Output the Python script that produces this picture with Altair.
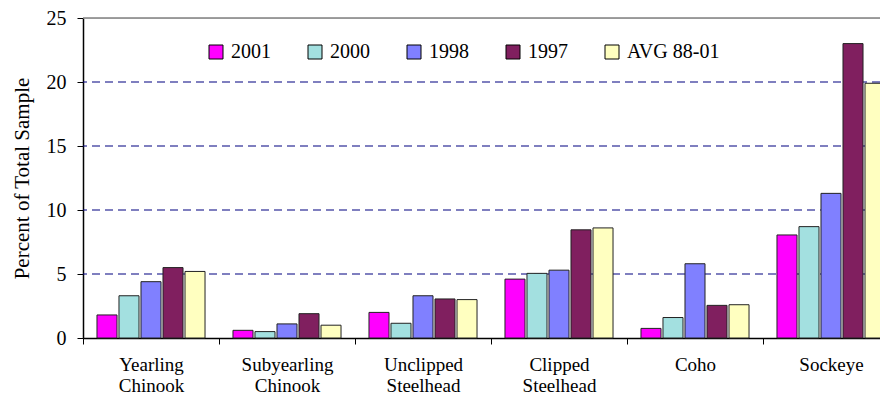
import altair as alt
import pandas as pd

categories = ["Yearling Chinook", "Subyearling Chinook", "Unclipped Steelhead",
              "Clipped Steelhead", "Coho", "Sockeye"]
series = ["2001", "2000", "1998", "1997", "AVG 88-01"]
v2001 = [1.8, 0.6, 2.0, 4.6, 0.75, 8.05]
v2000 = [3.3, 0.5, 1.15, 5.05, 1.6, 8.7]
v1998 = [4.4, 1.1, 3.3, 5.3, 5.8, 11.3]
v1997 = [5.5, 1.9, 3.05, 8.45, 2.55, 23.0]
vavg = [5.2, 1.0, 3.0, 8.6, 2.6, 19.9]
colors = ["#FF00FF", "#A3E0E0", "#8080FF", "#801F5F", "#FFFFC0"]
y_ticks = [0, 5, 10, 15, 20, 25]
grid_vals = [5, 10, 15, 20]

rows = []
for s, vals in zip(series, [v2001, v2000, v1998, v1997, vavg]):
    for c, v in zip(categories, vals):
        rows.append({"category": c, "series": s, "value": v})
df = pd.DataFrame(rows)

FONT = "Liberation Serif, Times New Roman, DejaVu Serif, serif"

bars = alt.Chart(df).mark_bar(stroke="#222222", strokeWidth=1).encode(
    x=alt.X("category:N", sort=categories,
            scale=alt.Scale(paddingInner=0, paddingOuter=0, range=[0, 816]),
            axis=alt.Axis(title=None, labelAngle=0,
                          labelExpr="split(datum.label, ' ')",
                          labelFont=FONT, labelFontSize=19, labelLineHeight=21,
                          labelColor="black", labelPadding=11,
                          tickBand="extent", tickColor="black", tickSize=6,
                          domainColor="black", domainWidth=1.5, grid=False)),
    xOffset=alt.XOffset("series:N", sort=series,
                        scale=alt.Scale(paddingInner=0.09, paddingOuter=0.635)),
    y=alt.Y("value:Q", scale=alt.Scale(domain=[0, 25]),
            axis=alt.Axis(title="Percent of Total Sample", values=y_ticks,
                          titleFont=FONT, titleFontSize=21, titleFontWeight="normal",
                          titleColor="black", titlePadding=14,
                          labelFont=FONT, labelFontSize=20, labelColor="black",
                          labelPadding=11, tickColor="black", tickSize=6,
                          domainColor="black", domainWidth=1.5, grid=False)),
    color=alt.Color("series:N", sort=series,
                    scale=alt.Scale(domain=series, range=colors),
                    legend=alt.Legend(title=None, orient="none", direction="horizontal",
                                      legendX=123, legendY=24, padding=0,
                                      symbolType="square", symbolSize=196,
                                      symbolStrokeColor="black", symbolStrokeWidth=1,
                                      labelFont=FONT, labelFontSize=20, labelColor="black",
                                      labelOffset=5, columnPadding=34)),
)

grid_df = pd.DataFrame({"v": grid_vals})
grid = alt.Chart(grid_df).mark_rule(color="#000080", strokeDash=[8, 5], strokeWidth=1.2).encode(
    y=alt.Y("v:Q", scale=alt.Scale(domain=[0, 25]))
)
top = alt.Chart(pd.DataFrame({"v": [25]})).mark_rule(color="#808080", strokeWidth=1.5).encode(
    y=alt.Y("v:Q", scale=alt.Scale(domain=[0, 25]))
)

chart = alt.layer(grid, top, bars).properties(
    width=797, height=320,
    autosize=alt.AutoSizeParams(type="none"),
    padding={"left": 75, "top": 10, "right": 0, "bottom": 61},
).configure_view(stroke=None).configure(background="white")

chart.save("out.html", embed_options={"renderer": "svg", "actions": False})
